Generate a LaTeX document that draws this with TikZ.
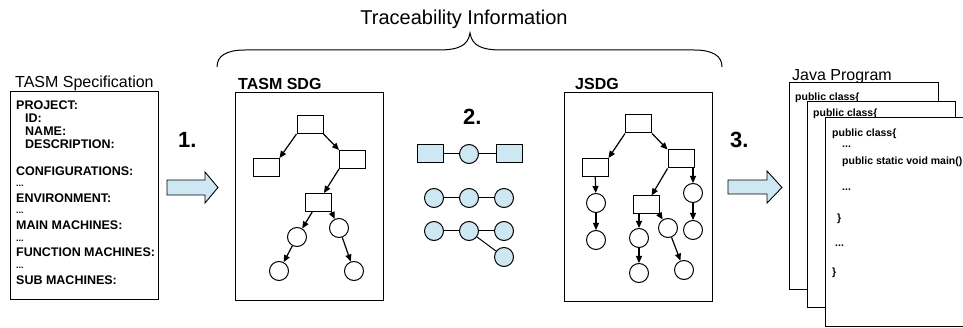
\documentclass[tikz,border=0pt]{standalone}
\usepackage{fontspec}
\setmainfont{Liberation Sans}
\usetikzlibrary{arrows.meta}
\definecolor{lblue}{RGB}{205,232,242}
\newcommand\myfs[1]{\fontsize{#1}{#1}\selectfont}
\begin{document}
\begin{tikzpicture}[x=1pt,y=-1pt,
  lbl/.style={inner sep=0pt, anchor=base west},
  spec/.style={lbl, font=\myfs{12.5}\bfseries},
  dots/.style={lbl, font=\myfs{9}\bfseries},
  code/.style={lbl, font=\myfs{10.5}\bfseries},
  ttl/.style={lbl, font=\myfs{16}},
  ttlb/.style={lbl, font=\myfs{16}\bfseries},
  num/.style={lbl, font=\myfs{22}\bfseries},
  frame/.style={draw, line width=1pt, inner sep=0pt, fill=white},
  rn/.style={draw, line width=1pt, minimum width=26pt, minimum height=18pt, inner sep=0pt},
  cn/.style={draw, circle, line width=1pt, minimum size=19pt, inner sep=0pt},
  rnb/.style={rn, fill=lblue},
  cnb/.style={cn, fill=lblue},
  arr/.style={-{Triangle[length=7pt,width=6pt]}, line width=1.2pt},
  link/.style={line width=1pt},
  blockarrow/.style={draw, line width=0.9pt, fill=lblue, line join=miter}
]
\useasboundingbox (0,0) rectangle (963,328);
\clip (0,0) rectangle (963,328);

% title and brace
\node[lbl, anchor=base, font=\myfs{20}] (title) at (464,25) {Traceability Information};
\draw[line width=1pt] (217,67) .. controls (217,56) and (226,50) .. (245,50) -- (438,50)
  .. controls (458,50) and (468,46) .. (470,33)
  .. controls (472,46) and (482,50) .. (502,50) -- (694,50)
  .. controls (713,50) and (722,56) .. (722,67);

% TASM specification
\node[ttl] (spectitle) at (15,88) {TASM Specification};
\node[frame, minimum width=148pt, minimum height=208pt] (specbox) at (84,196) {};
\node[spec] (sp1) at (16,109.5) {PROJECT:};
\node[spec] (sp2) at (25,122.5) {ID:};
\node[spec] (sp3) at (25,135.5) {NAME:};
\node[spec] (sp4) at (25,148.5) {DESCRIPTION:};
\node[spec] (sp5) at (16,175.5) {CONFIGURATIONS:};
\node[dots] (sp6) at (16,187) {...};
\node[spec] (sp7) at (16,202.5) {ENVIRONMENT:};
\node[dots] (sp8) at (16,214) {...};
\node[spec] (sp9) at (16,230) {MAIN MACHINES:};
\node[dots] (sp10) at (16,241.5) {...};
\node[spec] (sp11) at (16,257) {FUNCTION MACHINES:};
\node[dots] (sp12) at (16,268.5) {...};
\node[spec] (sp13) at (16,284.5) {SUB MACHINES:};

% step 1
\node[num] (n1) at (178,148) {1.};
\draw[blockarrow] (167,180) -- (205,180) -- (205,172) -- (218,187.5) -- (205,203) -- (205,195) -- (167,195) -- cycle;

% TASM SDG
\node[ttlb] (sdgtitle) at (238,90) {TASM SDG};
\node[frame, minimum width=148pt, minimum height=208pt] (sdgbox) at (309,197) {};
\node[rn] (t1) at (310,124.5) {};
\node[rn] (t2) at (266,167.5) {};
\node[rn] (t3) at (352.5,159.5) {};
\node[rn] (t4) at (318,202.5) {};
\node[cn] (t5) at (297,237) {};
\node[cn] (t6) at (339,228) {};
\node[cn] (t7) at (279,271) {};
\node[cn] (t8) at (354,271) {};
\draw[arr] (t1.south west) -- (t2.north east);
\draw[arr] (t1.south east) -- (t3.north west);
\draw[arr] (t3.south west) -- (t4);
\draw[arr] (t4) -- (t5);
\draw[arr] (t4.south east) -- (t6);
\draw[arr] (t5) -- (t7);
\draw[arr] (t6) -- (t8);

% step 2
\node[num] (n2) at (463,125) {2.};
\node[rnb] (m1) at (430,154) {};
\node[cnb] (m2) at (469,154) {};
\node[rnb] (m3) at (509,154) {};
\node[cnb] (m4) at (434,198) {};
\node[cnb] (m5) at (469,198) {};
\node[cnb] (m6) at (504,198) {};
\node[cnb] (m7) at (434,231) {};
\node[cnb] (m8) at (469,231) {};
\node[cnb] (m9) at (504,231) {};
\node[cnb] (m10) at (504,257) {};
\draw[link] (m1) -- (m2);
\draw[link] (m2) -- (m3);
\draw[link] (m4) -- (m5);
\draw[link] (m5) -- (m6);
\draw[link] (m7) -- (m8);
\draw[link] (m8) -- (m9);
\draw[link] (m8) -- (m10);

% JSDG
\node[ttlb] (jsdgtitle) at (575,90) {JSDG};
\node[frame, minimum width=148pt, minimum height=209pt] (jsdgbox) at (638,197.5) {};
\node[rn] (j1) at (638.5,124) {};
\node[rn] (j2) at (595,167.5) {};
\node[rn] (j3) at (681,159) {};
\node[rn] (j4) at (646,205) {};
\node[cn] (j5) at (596,203) {};
\node[cn] (j6) at (596,240) {};
\node[cn] (j7) at (693,193) {};
\node[cn] (j8) at (693,230) {};
\node[cn] (j9) at (639,238) {};
\node[cn] (j10) at (639,273) {};
\node[cn] (j11) at (668,228) {};
\node[cn] (j12) at (684,270) {};
\draw[arr] (j1.south west) -- (j2.north east);
\draw[arr] (j1.south east) -- (j3.north west);
\draw[arr] (j3.south west) -- (j4);
\draw[arr] (j2) -- (j5);
\draw[arr] (j5) -- (j6);
\draw[arr] (j3.south -| j7) -- (j7);
\draw[arr] (j7) -- (j8);
\draw[arr] (j4.south -| j9) -- (j9);
\draw[arr] (j9) -- (j10);
\draw[arr] (j4.south east) -- (j11);
\draw[arr] (j11) -- (j12);

% step 3
\node[num] (n3) at (730,148) {3.};
\draw[blockarrow] (728,180) -- (767,180) -- (767,171) -- (782,187.5) -- (767,203) -- (767,194) -- (728,194) -- cycle;

% Java program
\node[ttl] (javatitle) at (792,81) {Java Program};
\node[frame, minimum width=149pt, minimum height=207pt] (p1) at (863.5,186.5) {};
\node[code] (c1) at (795,101) {public class\{};
\node[frame, minimum width=148pt, minimum height=206pt] (p2) at (881,205) {};
\node[code] (c2) at (813,117) {public class\{};
\node[frame, minimum width=150pt, minimum height=209pt] (p3) at (900,222.5) {};
\node[code] (c3) at (832,137) {public class\{};
\node[code] (c4) at (842,148) {...};
\node[code] (c5) at (842,165) {public static void main()};
\node[code] (c6) at (842,191) {...};
\node[code] (c7) at (837,222) {\}};
\node[code] (c8) at (835,247) {...};
\node[code] (c9) at (832,276) {\}};
\end{tikzpicture}
\end{document}
